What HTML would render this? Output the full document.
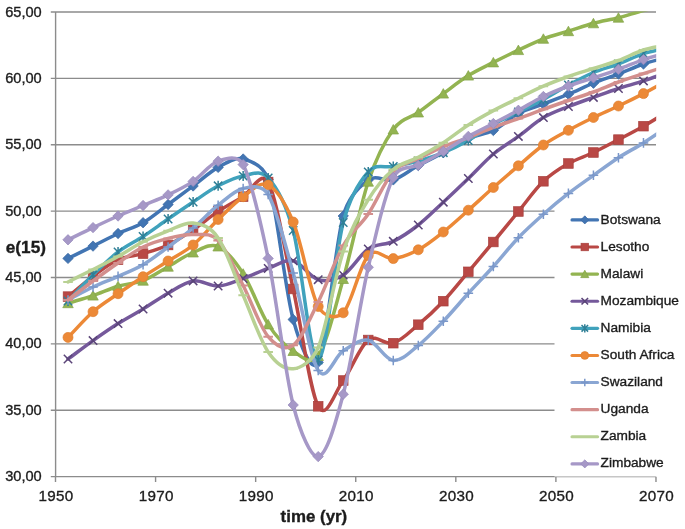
<!DOCTYPE html><html><head><meta charset="utf-8"><style>html,body{margin:0;padding:0;background:#fff;}body{width:685px;height:529px;overflow:hidden;position:relative;font-family:"Liberation Sans",sans-serif;color:#1a1a1a;}svg{position:absolute;left:0;top:0;will-change:transform;}.t{font-family:"Liberation Sans",sans-serif;fill:#1c1c1c;stroke:#1c1c1c;stroke-width:0.35px;}</style></head><body>
<svg width="685" height="529" viewBox="0 0 685 529">
<path d="M50.8,410.23H656 M50.8,343.86H656 M50.8,277.49H656 M50.8,211.11H656 M50.8,144.74H656 M50.8,78.37H656 M50.8,12.00H656" stroke="#8c8c8c" stroke-width="1.4" fill="none"/>
<path d="M55.6,12V477 M50.8,476.60H656 M55.50,476.60V482 M155.58,476.60V482 M255.66,476.60V482 M355.74,476.60V482 M455.82,476.60V482 M555.90,476.60V482 M655.98,476.60V482" stroke="#8c8c8c" stroke-width="1.4" fill="none"/>
<defs><clipPath id="pa"><rect x="55.6" y="11.4" width="600.6" height="466"/></clipPath></defs>
<g clip-path="url(#pa)">
<path d="M68.01,258.40 C76.35,254.30 84.69,250.25 93.03,246.10 C101.37,241.95 109.71,237.40 118.05,233.50 C126.39,229.60 134.73,227.53 143.07,222.70 C151.41,217.87 159.75,210.62 168.09,204.50 C176.43,198.38 184.77,192.18 193.11,186.00 C201.45,179.82 209.79,171.90 218.13,167.40 C226.47,162.90 234.81,156.98 243.15,159.00 C247.96,160.16 263.36,164.06 268.17,179.50 C276.51,206.25 284.85,289.05 293.19,319.50 C299.73,343.37 311.67,375.72 318.21,362.20 C326.55,344.95 334.89,246.37 343.23,216.00 C349.04,194.86 362.44,184.19 368.25,180.00 C376.59,173.98 384.93,182.32 393.27,179.90 C401.61,177.48 409.95,170.03 418.29,165.50 C426.63,160.97 434.97,157.23 443.31,152.70 C451.65,148.17 459.99,142.00 468.33,138.30 C476.67,134.60 485.01,134.63 493.35,130.50 C501.69,126.37 510.03,117.92 518.37,113.50 C526.71,109.08 535.05,107.22 543.39,104.00 C551.73,100.78 560.07,97.67 568.41,94.20 C576.75,90.73 585.09,86.57 593.43,83.20 C601.77,79.83 610.11,77.20 618.45,74.00 C626.79,70.80 635.13,66.85 643.47,64.00 C651.81,61.15 660.15,59.27 668.49,56.90" stroke="#4275b3" stroke-width="3.50" fill="none" stroke-linejoin="round" stroke-linecap="round"/>
<path d="M68.01,253.20L73.21,258.40L68.01,263.60L62.81,258.40Z" fill="#4275b3" stroke="#3a67a0" stroke-width="0.7"/>
<path d="M93.03,240.90L98.23,246.10L93.03,251.30L87.83,246.10Z" fill="#4275b3" stroke="#3a67a0" stroke-width="0.7"/>
<path d="M118.05,228.30L123.25,233.50L118.05,238.70L112.85,233.50Z" fill="#4275b3" stroke="#3a67a0" stroke-width="0.7"/>
<path d="M143.07,217.50L148.27,222.70L143.07,227.90L137.87,222.70Z" fill="#4275b3" stroke="#3a67a0" stroke-width="0.7"/>
<path d="M168.09,199.30L173.29,204.50L168.09,209.70L162.89,204.50Z" fill="#4275b3" stroke="#3a67a0" stroke-width="0.7"/>
<path d="M193.11,180.80L198.31,186.00L193.11,191.20L187.91,186.00Z" fill="#4275b3" stroke="#3a67a0" stroke-width="0.7"/>
<path d="M218.13,162.20L223.33,167.40L218.13,172.60L212.93,167.40Z" fill="#4275b3" stroke="#3a67a0" stroke-width="0.7"/>
<path d="M243.15,153.80L248.35,159.00L243.15,164.20L237.95,159.00Z" fill="#4275b3" stroke="#3a67a0" stroke-width="0.7"/>
<path d="M268.17,174.30L273.37,179.50L268.17,184.70L262.97,179.50Z" fill="#4275b3" stroke="#3a67a0" stroke-width="0.7"/>
<path d="M293.19,314.30L298.39,319.50L293.19,324.70L287.99,319.50Z" fill="#4275b3" stroke="#3a67a0" stroke-width="0.7"/>
<path d="M318.21,357.00L323.41,362.20L318.21,367.40L313.01,362.20Z" fill="#4275b3" stroke="#3a67a0" stroke-width="0.7"/>
<path d="M343.23,210.80L348.43,216.00L343.23,221.20L338.03,216.00Z" fill="#4275b3" stroke="#3a67a0" stroke-width="0.7"/>
<path d="M368.25,174.80L373.45,180.00L368.25,185.20L363.05,180.00Z" fill="#4275b3" stroke="#3a67a0" stroke-width="0.7"/>
<path d="M393.27,174.70L398.47,179.90L393.27,185.10L388.07,179.90Z" fill="#4275b3" stroke="#3a67a0" stroke-width="0.7"/>
<path d="M418.29,160.30L423.49,165.50L418.29,170.70L413.09,165.50Z" fill="#4275b3" stroke="#3a67a0" stroke-width="0.7"/>
<path d="M443.31,147.50L448.51,152.70L443.31,157.90L438.11,152.70Z" fill="#4275b3" stroke="#3a67a0" stroke-width="0.7"/>
<path d="M468.33,133.10L473.53,138.30L468.33,143.50L463.13,138.30Z" fill="#4275b3" stroke="#3a67a0" stroke-width="0.7"/>
<path d="M493.35,125.30L498.55,130.50L493.35,135.70L488.15,130.50Z" fill="#4275b3" stroke="#3a67a0" stroke-width="0.7"/>
<path d="M518.37,108.30L523.57,113.50L518.37,118.70L513.17,113.50Z" fill="#4275b3" stroke="#3a67a0" stroke-width="0.7"/>
<path d="M543.39,98.80L548.59,104.00L543.39,109.20L538.19,104.00Z" fill="#4275b3" stroke="#3a67a0" stroke-width="0.7"/>
<path d="M568.41,89.00L573.61,94.20L568.41,99.40L563.21,94.20Z" fill="#4275b3" stroke="#3a67a0" stroke-width="0.7"/>
<path d="M593.43,78.00L598.63,83.20L593.43,88.40L588.23,83.20Z" fill="#4275b3" stroke="#3a67a0" stroke-width="0.7"/>
<path d="M618.45,68.80L623.65,74.00L618.45,79.20L613.25,74.00Z" fill="#4275b3" stroke="#3a67a0" stroke-width="0.7"/>
<path d="M643.47,58.80L648.67,64.00L643.47,69.20L638.27,64.00Z" fill="#4275b3" stroke="#3a67a0" stroke-width="0.7"/>
<path d="M68.01,296.60 C76.35,289.83 84.69,282.45 93.03,276.30 C101.37,270.15 109.71,263.48 118.05,259.70 C126.39,255.92 134.73,256.05 143.07,253.60 C151.41,251.15 159.75,248.97 168.09,245.00 C176.43,241.03 184.77,235.40 193.11,229.80 C201.45,224.20 209.79,216.92 218.13,211.40 C226.47,205.88 234.81,201.60 243.15,196.70 C250.07,192.64 261.25,169.24 268.17,182.00 C276.51,197.38 284.85,251.62 293.19,289.00 C301.53,326.38 309.87,391.05 318.21,406.30 C326.55,421.55 334.89,391.55 343.23,380.50 C351.57,369.45 359.91,346.22 368.25,340.00 C376.59,333.78 384.93,345.75 393.27,343.20 C401.61,340.65 409.95,331.70 418.29,324.70 C426.63,317.70 434.97,310.02 443.31,301.20 C451.65,292.38 459.99,281.67 468.33,271.80 C476.67,261.93 485.01,252.05 493.35,242.00 C501.69,231.95 510.03,221.62 518.37,211.50 C526.71,201.38 535.05,189.30 543.39,181.30 C551.73,173.30 560.07,168.30 568.41,163.50 C576.75,158.70 585.09,156.48 593.43,152.50 C601.77,148.52 610.11,143.98 618.45,139.60 C626.79,135.22 635.13,130.97 643.47,126.20 C651.81,121.43 660.15,116.07 668.49,111.00" stroke="#b94845" stroke-width="3.50" fill="none" stroke-linejoin="round" stroke-linecap="round"/>
<rect x="63.21" y="291.80" width="9.60" height="9.60" fill="#b94845" stroke="#a8403d" stroke-width="0.7"/>
<rect x="88.23" y="271.50" width="9.60" height="9.60" fill="#b94845" stroke="#a8403d" stroke-width="0.7"/>
<rect x="113.25" y="254.90" width="9.60" height="9.60" fill="#b94845" stroke="#a8403d" stroke-width="0.7"/>
<rect x="138.27" y="248.80" width="9.60" height="9.60" fill="#b94845" stroke="#a8403d" stroke-width="0.7"/>
<rect x="163.29" y="240.20" width="9.60" height="9.60" fill="#b94845" stroke="#a8403d" stroke-width="0.7"/>
<rect x="188.31" y="225.00" width="9.60" height="9.60" fill="#b94845" stroke="#a8403d" stroke-width="0.7"/>
<rect x="213.33" y="206.60" width="9.60" height="9.60" fill="#b94845" stroke="#a8403d" stroke-width="0.7"/>
<rect x="238.35" y="191.90" width="9.60" height="9.60" fill="#b94845" stroke="#a8403d" stroke-width="0.7"/>
<rect x="263.37" y="177.20" width="9.60" height="9.60" fill="#b94845" stroke="#a8403d" stroke-width="0.7"/>
<rect x="288.39" y="284.20" width="9.60" height="9.60" fill="#b94845" stroke="#a8403d" stroke-width="0.7"/>
<rect x="313.41" y="401.50" width="9.60" height="9.60" fill="#b94845" stroke="#a8403d" stroke-width="0.7"/>
<rect x="338.43" y="375.70" width="9.60" height="9.60" fill="#b94845" stroke="#a8403d" stroke-width="0.7"/>
<rect x="363.45" y="335.20" width="9.60" height="9.60" fill="#b94845" stroke="#a8403d" stroke-width="0.7"/>
<rect x="388.47" y="338.40" width="9.60" height="9.60" fill="#b94845" stroke="#a8403d" stroke-width="0.7"/>
<rect x="413.49" y="319.90" width="9.60" height="9.60" fill="#b94845" stroke="#a8403d" stroke-width="0.7"/>
<rect x="438.51" y="296.40" width="9.60" height="9.60" fill="#b94845" stroke="#a8403d" stroke-width="0.7"/>
<rect x="463.53" y="267.00" width="9.60" height="9.60" fill="#b94845" stroke="#a8403d" stroke-width="0.7"/>
<rect x="488.55" y="237.20" width="9.60" height="9.60" fill="#b94845" stroke="#a8403d" stroke-width="0.7"/>
<rect x="513.57" y="206.70" width="9.60" height="9.60" fill="#b94845" stroke="#a8403d" stroke-width="0.7"/>
<rect x="538.59" y="176.50" width="9.60" height="9.60" fill="#b94845" stroke="#a8403d" stroke-width="0.7"/>
<rect x="563.61" y="158.70" width="9.60" height="9.60" fill="#b94845" stroke="#a8403d" stroke-width="0.7"/>
<rect x="588.63" y="147.70" width="9.60" height="9.60" fill="#b94845" stroke="#a8403d" stroke-width="0.7"/>
<rect x="613.65" y="134.80" width="9.60" height="9.60" fill="#b94845" stroke="#a8403d" stroke-width="0.7"/>
<rect x="638.67" y="121.40" width="9.60" height="9.60" fill="#b94845" stroke="#a8403d" stroke-width="0.7"/>
<path d="M68.01,303.20 C76.35,300.67 84.69,298.43 93.03,295.60 C101.37,292.77 109.71,288.68 118.05,286.20 C126.39,283.72 134.73,283.95 143.07,280.70 C151.41,277.45 159.75,271.40 168.09,266.70 C176.43,262.00 184.77,255.87 193.11,252.50 C201.45,249.13 209.79,242.97 218.13,246.50 C226.47,250.03 234.81,260.72 243.15,273.70 C251.49,286.68 259.83,311.52 268.17,324.40 C276.51,337.28 284.85,345.73 293.19,351.00 C300.47,355.60 310.93,366.48 318.21,356.00 C326.55,344.00 334.89,308.05 343.23,279.00 C351.57,249.95 359.91,206.62 368.25,181.70 C376.59,156.78 384.93,141.03 393.27,129.50 C401.61,117.97 409.95,118.48 418.29,112.50 C426.63,106.52 434.97,99.75 443.31,93.60 C451.65,87.45 459.99,80.80 468.33,75.60 C476.67,70.40 485.01,66.65 493.35,62.40 C501.69,58.15 510.03,54.03 518.37,50.10 C526.71,46.17 535.05,41.95 543.39,38.80 C551.73,35.65 560.07,33.78 568.41,31.20 C576.75,28.62 585.09,25.55 593.43,23.30 C601.77,21.05 610.11,19.83 618.45,17.70 C626.79,15.57 635.13,12.62 643.47,10.50 C651.81,8.38 660.15,6.83 668.49,5.00" stroke="#93b451" stroke-width="3.50" fill="none" stroke-linejoin="round" stroke-linecap="round"/>
<path d="M68.01,298.20L73.26,307.70L62.76,307.70Z" fill="#93b451" stroke="#84a447" stroke-width="0.7"/>
<path d="M93.03,290.60L98.28,300.10L87.78,300.10Z" fill="#93b451" stroke="#84a447" stroke-width="0.7"/>
<path d="M118.05,281.20L123.30,290.70L112.80,290.70Z" fill="#93b451" stroke="#84a447" stroke-width="0.7"/>
<path d="M143.07,275.70L148.32,285.20L137.82,285.20Z" fill="#93b451" stroke="#84a447" stroke-width="0.7"/>
<path d="M168.09,261.70L173.34,271.20L162.84,271.20Z" fill="#93b451" stroke="#84a447" stroke-width="0.7"/>
<path d="M193.11,247.50L198.36,257.00L187.86,257.00Z" fill="#93b451" stroke="#84a447" stroke-width="0.7"/>
<path d="M218.13,241.50L223.38,251.00L212.88,251.00Z" fill="#93b451" stroke="#84a447" stroke-width="0.7"/>
<path d="M243.15,268.70L248.40,278.20L237.90,278.20Z" fill="#93b451" stroke="#84a447" stroke-width="0.7"/>
<path d="M268.17,319.40L273.42,328.90L262.92,328.90Z" fill="#93b451" stroke="#84a447" stroke-width="0.7"/>
<path d="M293.19,346.00L298.44,355.50L287.94,355.50Z" fill="#93b451" stroke="#84a447" stroke-width="0.7"/>
<path d="M318.21,351.00L323.46,360.50L312.96,360.50Z" fill="#93b451" stroke="#84a447" stroke-width="0.7"/>
<path d="M343.23,274.00L348.48,283.50L337.98,283.50Z" fill="#93b451" stroke="#84a447" stroke-width="0.7"/>
<path d="M368.25,176.70L373.50,186.20L363.00,186.20Z" fill="#93b451" stroke="#84a447" stroke-width="0.7"/>
<path d="M393.27,124.50L398.52,134.00L388.02,134.00Z" fill="#93b451" stroke="#84a447" stroke-width="0.7"/>
<path d="M418.29,107.50L423.54,117.00L413.04,117.00Z" fill="#93b451" stroke="#84a447" stroke-width="0.7"/>
<path d="M443.31,88.60L448.56,98.10L438.06,98.10Z" fill="#93b451" stroke="#84a447" stroke-width="0.7"/>
<path d="M468.33,70.60L473.58,80.10L463.08,80.10Z" fill="#93b451" stroke="#84a447" stroke-width="0.7"/>
<path d="M493.35,57.40L498.60,66.90L488.10,66.90Z" fill="#93b451" stroke="#84a447" stroke-width="0.7"/>
<path d="M518.37,45.10L523.62,54.60L513.12,54.60Z" fill="#93b451" stroke="#84a447" stroke-width="0.7"/>
<path d="M543.39,33.80L548.64,43.30L538.14,43.30Z" fill="#93b451" stroke="#84a447" stroke-width="0.7"/>
<path d="M568.41,26.20L573.66,35.70L563.16,35.70Z" fill="#93b451" stroke="#84a447" stroke-width="0.7"/>
<path d="M593.43,18.30L598.68,27.80L588.18,27.80Z" fill="#93b451" stroke="#84a447" stroke-width="0.7"/>
<path d="M618.45,12.70L623.70,22.20L613.20,22.20Z" fill="#93b451" stroke="#84a447" stroke-width="0.7"/>
<path d="M68.01,359.00 C76.35,352.87 84.69,346.50 93.03,340.60 C101.37,334.70 109.71,328.87 118.05,323.60 C126.39,318.33 134.73,314.07 143.07,309.00 C151.41,303.93 159.75,297.88 168.09,293.20 C176.43,288.52 184.77,282.10 193.11,280.90 C201.45,279.70 209.79,286.40 218.13,286.00 C226.47,285.60 234.81,281.43 243.15,278.50 C251.49,275.57 259.83,271.35 268.17,268.40 C276.51,265.45 284.85,258.92 293.19,260.80 C301.53,262.68 309.87,277.33 318.21,279.70 C326.55,282.07 334.89,280.12 343.23,275.00 C351.57,269.88 359.91,254.62 368.25,249.00 C376.59,243.38 384.93,245.30 393.27,241.30 C401.61,237.30 409.95,231.52 418.29,225.00 C426.63,218.48 434.97,209.95 443.31,202.20 C451.65,194.45 459.99,186.53 468.33,178.50 C476.67,170.47 485.01,161.02 493.35,154.00 C501.69,146.98 510.03,142.47 518.37,136.40 C526.71,130.33 535.05,122.58 543.39,117.60 C551.73,112.62 560.07,109.87 568.41,106.50 C576.75,103.13 585.09,100.40 593.43,97.40 C601.77,94.40 610.11,91.25 618.45,88.50 C626.79,85.75 635.13,83.70 643.47,80.90 C651.81,78.10 660.15,74.77 668.49,71.70" stroke="#75599b" stroke-width="3.50" fill="none" stroke-linejoin="round" stroke-linecap="round"/>
<path d="M63.81,354.80L72.21,363.20M63.81,363.20L72.21,354.80" stroke="#5a4478" stroke-width="1.5" fill="none"/>
<path d="M88.83,336.40L97.23,344.80M88.83,344.80L97.23,336.40" stroke="#5a4478" stroke-width="1.5" fill="none"/>
<path d="M113.85,319.40L122.25,327.80M113.85,327.80L122.25,319.40" stroke="#5a4478" stroke-width="1.5" fill="none"/>
<path d="M138.87,304.80L147.27,313.20M138.87,313.20L147.27,304.80" stroke="#5a4478" stroke-width="1.5" fill="none"/>
<path d="M163.89,289.00L172.29,297.40M163.89,297.40L172.29,289.00" stroke="#5a4478" stroke-width="1.5" fill="none"/>
<path d="M188.91,276.70L197.31,285.10M188.91,285.10L197.31,276.70" stroke="#5a4478" stroke-width="1.5" fill="none"/>
<path d="M213.93,281.80L222.33,290.20M213.93,290.20L222.33,281.80" stroke="#5a4478" stroke-width="1.5" fill="none"/>
<path d="M238.95,274.30L247.35,282.70M238.95,282.70L247.35,274.30" stroke="#5a4478" stroke-width="1.5" fill="none"/>
<path d="M263.97,264.20L272.37,272.60M263.97,272.60L272.37,264.20" stroke="#5a4478" stroke-width="1.5" fill="none"/>
<path d="M288.99,256.60L297.39,265.00M288.99,265.00L297.39,256.60" stroke="#5a4478" stroke-width="1.5" fill="none"/>
<path d="M314.01,275.50L322.41,283.90M314.01,283.90L322.41,275.50" stroke="#5a4478" stroke-width="1.5" fill="none"/>
<path d="M339.03,270.80L347.43,279.20M339.03,279.20L347.43,270.80" stroke="#5a4478" stroke-width="1.5" fill="none"/>
<path d="M364.05,244.80L372.45,253.20M364.05,253.20L372.45,244.80" stroke="#5a4478" stroke-width="1.5" fill="none"/>
<path d="M389.07,237.10L397.47,245.50M389.07,245.50L397.47,237.10" stroke="#5a4478" stroke-width="1.5" fill="none"/>
<path d="M414.09,220.80L422.49,229.20M414.09,229.20L422.49,220.80" stroke="#5a4478" stroke-width="1.5" fill="none"/>
<path d="M439.11,198.00L447.51,206.40M439.11,206.40L447.51,198.00" stroke="#5a4478" stroke-width="1.5" fill="none"/>
<path d="M464.13,174.30L472.53,182.70M464.13,182.70L472.53,174.30" stroke="#5a4478" stroke-width="1.5" fill="none"/>
<path d="M489.15,149.80L497.55,158.20M489.15,158.20L497.55,149.80" stroke="#5a4478" stroke-width="1.5" fill="none"/>
<path d="M514.17,132.20L522.57,140.60M514.17,140.60L522.57,132.20" stroke="#5a4478" stroke-width="1.5" fill="none"/>
<path d="M539.19,113.40L547.59,121.80M539.19,121.80L547.59,113.40" stroke="#5a4478" stroke-width="1.5" fill="none"/>
<path d="M564.21,102.30L572.61,110.70M564.21,110.70L572.61,102.30" stroke="#5a4478" stroke-width="1.5" fill="none"/>
<path d="M589.23,93.20L597.63,101.60M589.23,101.60L597.63,93.20" stroke="#5a4478" stroke-width="1.5" fill="none"/>
<path d="M614.25,84.30L622.65,92.70M614.25,92.70L622.65,84.30" stroke="#5a4478" stroke-width="1.5" fill="none"/>
<path d="M639.27,76.70L647.67,85.10M639.27,85.10L647.67,76.70" stroke="#5a4478" stroke-width="1.5" fill="none"/>
<path d="M68.01,301.00 C76.35,292.27 84.69,282.97 93.03,274.80 C101.37,266.63 109.71,258.38 118.05,252.00 C126.39,245.62 134.73,242.00 143.07,236.50 C151.41,231.00 159.75,224.75 168.09,219.00 C176.43,213.25 184.77,207.53 193.11,202.00 C201.45,196.47 209.79,190.15 218.13,185.80 C226.47,181.45 234.81,177.20 243.15,175.90 C251.49,174.60 259.83,168.90 268.17,178.00 C275.88,186.41 285.48,202.46 293.19,230.50 C301.53,260.83 309.87,361.33 318.21,360.00 C326.55,358.67 334.89,253.83 343.23,222.50 C350.48,195.27 361.00,180.11 368.25,172.00 C376.59,162.67 384.93,168.33 393.27,166.50 C401.61,164.67 409.95,163.30 418.29,161.00 C426.63,158.70 434.97,156.12 443.31,152.70 C451.65,149.28 459.99,145.22 468.33,140.50 C476.67,135.78 485.01,129.15 493.35,124.40 C501.69,119.65 510.03,116.15 518.37,112.00 C526.71,107.85 535.05,104.00 543.39,99.50 C551.73,95.00 560.07,89.50 568.41,85.00 C576.75,80.50 585.09,76.00 593.43,72.50 C601.77,69.00 610.11,67.15 618.45,64.00 C626.79,60.85 635.13,56.30 643.47,53.60 C651.81,50.90 660.15,49.73 668.49,47.80" stroke="#40a2bc" stroke-width="3.50" fill="none" stroke-linejoin="round" stroke-linecap="round"/>
<path d="M63.81,296.80L72.21,305.20M63.81,305.20L72.21,296.80M68.01,296.00L68.01,306.00" stroke="#2f7f96" stroke-width="1.5" fill="none"/>
<path d="M88.83,270.60L97.23,279.00M88.83,279.00L97.23,270.60M93.03,269.80L93.03,279.80" stroke="#2f7f96" stroke-width="1.5" fill="none"/>
<path d="M113.85,247.80L122.25,256.20M113.85,256.20L122.25,247.80M118.05,247.00L118.05,257.00" stroke="#2f7f96" stroke-width="1.5" fill="none"/>
<path d="M138.87,232.30L147.27,240.70M138.87,240.70L147.27,232.30M143.07,231.50L143.07,241.50" stroke="#2f7f96" stroke-width="1.5" fill="none"/>
<path d="M163.89,214.80L172.29,223.20M163.89,223.20L172.29,214.80M168.09,214.00L168.09,224.00" stroke="#2f7f96" stroke-width="1.5" fill="none"/>
<path d="M188.91,197.80L197.31,206.20M188.91,206.20L197.31,197.80M193.11,197.00L193.11,207.00" stroke="#2f7f96" stroke-width="1.5" fill="none"/>
<path d="M213.93,181.60L222.33,190.00M213.93,190.00L222.33,181.60M218.13,180.80L218.13,190.80" stroke="#2f7f96" stroke-width="1.5" fill="none"/>
<path d="M238.95,171.70L247.35,180.10M238.95,180.10L247.35,171.70M243.15,170.90L243.15,180.90" stroke="#2f7f96" stroke-width="1.5" fill="none"/>
<path d="M263.97,173.80L272.37,182.20M263.97,182.20L272.37,173.80M268.17,173.00L268.17,183.00" stroke="#2f7f96" stroke-width="1.5" fill="none"/>
<path d="M288.99,226.30L297.39,234.70M288.99,234.70L297.39,226.30M293.19,225.50L293.19,235.50" stroke="#2f7f96" stroke-width="1.5" fill="none"/>
<path d="M314.01,355.80L322.41,364.20M314.01,364.20L322.41,355.80M318.21,355.00L318.21,365.00" stroke="#2f7f96" stroke-width="1.5" fill="none"/>
<path d="M339.03,218.30L347.43,226.70M339.03,226.70L347.43,218.30M343.23,217.50L343.23,227.50" stroke="#2f7f96" stroke-width="1.5" fill="none"/>
<path d="M364.05,167.80L372.45,176.20M364.05,176.20L372.45,167.80M368.25,167.00L368.25,177.00" stroke="#2f7f96" stroke-width="1.5" fill="none"/>
<path d="M389.07,162.30L397.47,170.70M389.07,170.70L397.47,162.30M393.27,161.50L393.27,171.50" stroke="#2f7f96" stroke-width="1.5" fill="none"/>
<path d="M414.09,156.80L422.49,165.20M414.09,165.20L422.49,156.80M418.29,156.00L418.29,166.00" stroke="#2f7f96" stroke-width="1.5" fill="none"/>
<path d="M439.11,148.50L447.51,156.90M439.11,156.90L447.51,148.50M443.31,147.70L443.31,157.70" stroke="#2f7f96" stroke-width="1.5" fill="none"/>
<path d="M464.13,136.30L472.53,144.70M464.13,144.70L472.53,136.30M468.33,135.50L468.33,145.50" stroke="#2f7f96" stroke-width="1.5" fill="none"/>
<path d="M489.15,120.20L497.55,128.60M489.15,128.60L497.55,120.20M493.35,119.40L493.35,129.40" stroke="#2f7f96" stroke-width="1.5" fill="none"/>
<path d="M514.17,107.80L522.57,116.20M514.17,116.20L522.57,107.80M518.37,107.00L518.37,117.00" stroke="#2f7f96" stroke-width="1.5" fill="none"/>
<path d="M539.19,95.30L547.59,103.70M539.19,103.70L547.59,95.30M543.39,94.50L543.39,104.50" stroke="#2f7f96" stroke-width="1.5" fill="none"/>
<path d="M564.21,80.80L572.61,89.20M564.21,89.20L572.61,80.80M568.41,80.00L568.41,90.00" stroke="#2f7f96" stroke-width="1.5" fill="none"/>
<path d="M589.23,68.30L597.63,76.70M589.23,76.70L597.63,68.30M593.43,67.50L593.43,77.50" stroke="#2f7f96" stroke-width="1.5" fill="none"/>
<path d="M614.25,59.80L622.65,68.20M614.25,68.20L622.65,59.80M618.45,59.00L618.45,69.00" stroke="#2f7f96" stroke-width="1.5" fill="none"/>
<path d="M639.27,49.40L647.67,57.80M639.27,57.80L647.67,49.40M643.47,48.60L643.47,58.60" stroke="#2f7f96" stroke-width="1.5" fill="none"/>
<path d="M68.01,337.40 C76.35,328.83 84.69,318.98 93.03,311.70 C101.37,304.42 109.71,299.53 118.05,293.70 C126.39,287.87 134.73,282.15 143.07,276.70 C151.41,271.25 159.75,266.28 168.09,261.00 C176.43,255.72 184.77,251.92 193.11,245.00 C201.45,238.08 209.79,227.55 218.13,219.50 C226.47,211.45 234.81,202.45 243.15,196.70 C251.49,190.95 259.83,180.78 268.17,185.00 C276.51,189.22 284.85,201.75 293.19,222.00 C301.53,242.25 309.87,291.37 318.21,306.50 C324.44,317.80 337.00,319.15 343.23,312.80 C351.57,304.30 359.91,264.53 368.25,255.50 C376.59,246.47 384.93,259.55 393.27,258.60 C401.61,257.65 409.95,254.23 418.29,249.80 C426.63,245.37 434.97,238.60 443.31,232.00 C451.65,225.40 459.99,217.62 468.33,210.20 C476.67,202.78 485.01,194.90 493.35,187.50 C501.69,180.10 510.03,172.88 518.37,165.80 C526.71,158.72 535.05,150.92 543.39,145.00 C551.73,139.08 560.07,134.88 568.41,130.30 C576.75,125.72 585.09,121.55 593.43,117.50 C601.77,113.45 610.11,109.98 618.45,106.00 C626.79,102.02 635.13,97.93 643.47,93.60 C651.81,89.27 660.15,84.53 668.49,80.00" stroke="#ec8937" stroke-width="3.50" fill="none" stroke-linejoin="round" stroke-linecap="round"/>
<circle cx="68.01" cy="337.40" r="5.00" fill="#ec8937" stroke="#e07f30" stroke-width="0.7"/>
<circle cx="93.03" cy="311.70" r="5.00" fill="#ec8937" stroke="#e07f30" stroke-width="0.7"/>
<circle cx="118.05" cy="293.70" r="5.00" fill="#ec8937" stroke="#e07f30" stroke-width="0.7"/>
<circle cx="143.07" cy="276.70" r="5.00" fill="#ec8937" stroke="#e07f30" stroke-width="0.7"/>
<circle cx="168.09" cy="261.00" r="5.00" fill="#ec8937" stroke="#e07f30" stroke-width="0.7"/>
<circle cx="193.11" cy="245.00" r="5.00" fill="#ec8937" stroke="#e07f30" stroke-width="0.7"/>
<circle cx="218.13" cy="219.50" r="5.00" fill="#ec8937" stroke="#e07f30" stroke-width="0.7"/>
<circle cx="243.15" cy="196.70" r="5.00" fill="#ec8937" stroke="#e07f30" stroke-width="0.7"/>
<circle cx="268.17" cy="185.00" r="5.00" fill="#ec8937" stroke="#e07f30" stroke-width="0.7"/>
<circle cx="293.19" cy="222.00" r="5.00" fill="#ec8937" stroke="#e07f30" stroke-width="0.7"/>
<circle cx="318.21" cy="306.50" r="5.00" fill="#ec8937" stroke="#e07f30" stroke-width="0.7"/>
<circle cx="343.23" cy="312.80" r="5.00" fill="#ec8937" stroke="#e07f30" stroke-width="0.7"/>
<circle cx="368.25" cy="255.50" r="5.00" fill="#ec8937" stroke="#e07f30" stroke-width="0.7"/>
<circle cx="393.27" cy="258.60" r="5.00" fill="#ec8937" stroke="#e07f30" stroke-width="0.7"/>
<circle cx="418.29" cy="249.80" r="5.00" fill="#ec8937" stroke="#e07f30" stroke-width="0.7"/>
<circle cx="443.31" cy="232.00" r="5.00" fill="#ec8937" stroke="#e07f30" stroke-width="0.7"/>
<circle cx="468.33" cy="210.20" r="5.00" fill="#ec8937" stroke="#e07f30" stroke-width="0.7"/>
<circle cx="493.35" cy="187.50" r="5.00" fill="#ec8937" stroke="#e07f30" stroke-width="0.7"/>
<circle cx="518.37" cy="165.80" r="5.00" fill="#ec8937" stroke="#e07f30" stroke-width="0.7"/>
<circle cx="543.39" cy="145.00" r="5.00" fill="#ec8937" stroke="#e07f30" stroke-width="0.7"/>
<circle cx="568.41" cy="130.30" r="5.00" fill="#ec8937" stroke="#e07f30" stroke-width="0.7"/>
<circle cx="593.43" cy="117.50" r="5.00" fill="#ec8937" stroke="#e07f30" stroke-width="0.7"/>
<circle cx="618.45" cy="106.00" r="5.00" fill="#ec8937" stroke="#e07f30" stroke-width="0.7"/>
<circle cx="643.47" cy="93.60" r="5.00" fill="#ec8937" stroke="#e07f30" stroke-width="0.7"/>
<path d="M68.01,300.00 C76.35,295.67 84.69,290.95 93.03,287.00 C101.37,283.05 109.71,280.02 118.05,276.30 C126.39,272.58 134.73,269.58 143.07,264.70 C151.41,259.82 159.75,253.12 168.09,247.00 C176.43,240.88 184.77,234.97 193.11,228.00 C201.45,221.03 209.79,211.78 218.13,205.20 C226.47,198.62 234.81,190.28 243.15,188.50 C249.71,187.10 261.61,183.43 268.17,194.50 C276.51,208.58 284.85,243.67 293.19,273.00 C301.53,302.33 309.87,357.53 318.21,370.50 C326.55,383.47 334.89,355.85 343.23,350.80 C351.57,345.75 359.91,338.58 368.25,340.20 C376.59,341.82 384.93,359.62 393.27,360.50 C401.61,361.38 409.95,352.03 418.29,345.50 C426.63,338.97 434.97,330.00 443.31,321.30 C451.65,312.60 459.99,302.43 468.33,293.30 C476.67,284.17 485.01,275.77 493.35,266.50 C501.69,257.23 510.03,246.42 518.37,237.70 C526.71,228.98 535.05,221.58 543.39,214.20 C551.73,206.82 560.07,199.88 568.41,193.40 C576.75,186.92 585.09,181.25 593.43,175.30 C601.77,169.35 610.11,163.10 618.45,157.70 C626.79,152.30 635.13,148.17 643.47,142.90 C651.81,137.63 660.15,131.70 668.49,126.10" stroke="#8aa6d3" stroke-width="3.50" fill="none" stroke-linejoin="round" stroke-linecap="round"/>
<path d="M63.21,300.00L72.81,300.00M68.01,295.20L68.01,304.80" stroke="#7a97c9" stroke-width="1.5" fill="none"/>
<path d="M88.23,287.00L97.83,287.00M93.03,282.20L93.03,291.80" stroke="#7a97c9" stroke-width="1.5" fill="none"/>
<path d="M113.25,276.30L122.85,276.30M118.05,271.50L118.05,281.10" stroke="#7a97c9" stroke-width="1.5" fill="none"/>
<path d="M138.27,264.70L147.87,264.70M143.07,259.90L143.07,269.50" stroke="#7a97c9" stroke-width="1.5" fill="none"/>
<path d="M163.29,247.00L172.89,247.00M168.09,242.20L168.09,251.80" stroke="#7a97c9" stroke-width="1.5" fill="none"/>
<path d="M188.31,228.00L197.91,228.00M193.11,223.20L193.11,232.80" stroke="#7a97c9" stroke-width="1.5" fill="none"/>
<path d="M213.33,205.20L222.93,205.20M218.13,200.40L218.13,210.00" stroke="#7a97c9" stroke-width="1.5" fill="none"/>
<path d="M238.35,188.50L247.95,188.50M243.15,183.70L243.15,193.30" stroke="#7a97c9" stroke-width="1.5" fill="none"/>
<path d="M263.37,194.50L272.97,194.50M268.17,189.70L268.17,199.30" stroke="#7a97c9" stroke-width="1.5" fill="none"/>
<path d="M288.39,273.00L297.99,273.00M293.19,268.20L293.19,277.80" stroke="#7a97c9" stroke-width="1.5" fill="none"/>
<path d="M313.41,370.50L323.01,370.50M318.21,365.70L318.21,375.30" stroke="#7a97c9" stroke-width="1.5" fill="none"/>
<path d="M338.43,350.80L348.03,350.80M343.23,346.00L343.23,355.60" stroke="#7a97c9" stroke-width="1.5" fill="none"/>
<path d="M363.45,340.20L373.05,340.20M368.25,335.40L368.25,345.00" stroke="#7a97c9" stroke-width="1.5" fill="none"/>
<path d="M388.47,360.50L398.07,360.50M393.27,355.70L393.27,365.30" stroke="#7a97c9" stroke-width="1.5" fill="none"/>
<path d="M413.49,345.50L423.09,345.50M418.29,340.70L418.29,350.30" stroke="#7a97c9" stroke-width="1.5" fill="none"/>
<path d="M438.51,321.30L448.11,321.30M443.31,316.50L443.31,326.10" stroke="#7a97c9" stroke-width="1.5" fill="none"/>
<path d="M463.53,293.30L473.13,293.30M468.33,288.50L468.33,298.10" stroke="#7a97c9" stroke-width="1.5" fill="none"/>
<path d="M488.55,266.50L498.15,266.50M493.35,261.70L493.35,271.30" stroke="#7a97c9" stroke-width="1.5" fill="none"/>
<path d="M513.57,237.70L523.17,237.70M518.37,232.90L518.37,242.50" stroke="#7a97c9" stroke-width="1.5" fill="none"/>
<path d="M538.59,214.20L548.19,214.20M543.39,209.40L543.39,219.00" stroke="#7a97c9" stroke-width="1.5" fill="none"/>
<path d="M563.61,193.40L573.21,193.40M568.41,188.60L568.41,198.20" stroke="#7a97c9" stroke-width="1.5" fill="none"/>
<path d="M588.63,175.30L598.23,175.30M593.43,170.50L593.43,180.10" stroke="#7a97c9" stroke-width="1.5" fill="none"/>
<path d="M613.65,157.70L623.25,157.70M618.45,152.90L618.45,162.50" stroke="#7a97c9" stroke-width="1.5" fill="none"/>
<path d="M638.67,142.90L648.27,142.90M643.47,138.10L643.47,147.70" stroke="#7a97c9" stroke-width="1.5" fill="none"/>
<path d="M68.01,300.00 C76.35,293.67 84.69,287.17 93.03,281.00 C101.37,274.83 109.71,268.67 118.05,263.00 C126.39,257.33 134.73,251.10 143.07,247.00 C151.41,242.90 159.75,240.47 168.09,238.40 C176.43,236.33 184.77,234.27 193.11,234.60 C201.45,234.93 209.79,231.92 218.13,240.40 C226.47,248.88 234.81,269.45 243.15,285.50 C251.49,301.55 259.83,326.75 268.17,336.70 C276.51,346.65 284.85,350.98 293.19,345.20 C301.53,339.42 309.87,318.62 318.21,302.00 C326.55,285.38 334.89,260.17 343.23,245.50 C351.57,230.83 359.91,226.32 368.25,214.00 C376.59,201.68 384.93,180.82 393.27,171.60 C401.61,162.38 409.95,162.87 418.29,158.70 C426.63,154.53 434.97,150.12 443.31,146.60 C451.65,143.08 459.99,140.82 468.33,137.60 C476.67,134.38 485.01,130.47 493.35,127.30 C501.69,124.13 510.03,121.60 518.37,118.60 C526.71,115.60 535.05,112.32 543.39,109.30 C551.73,106.28 560.07,103.38 568.41,100.50 C576.75,97.62 585.09,95.08 593.43,92.00 C601.77,88.92 610.11,85.07 618.45,82.00 C626.79,78.93 635.13,76.33 643.47,73.60 C651.81,70.87 660.15,68.27 668.49,65.60" stroke="#d38f8d" stroke-width="3.50" fill="none" stroke-linejoin="round" stroke-linecap="round"/>
<path d="M63.21,300.00L72.81,300.00" stroke="#d38f8d" stroke-width="2.0" fill="none"/>
<path d="M88.23,281.00L97.83,281.00" stroke="#d38f8d" stroke-width="2.0" fill="none"/>
<path d="M113.25,263.00L122.85,263.00" stroke="#d38f8d" stroke-width="2.0" fill="none"/>
<path d="M138.27,247.00L147.87,247.00" stroke="#d38f8d" stroke-width="2.0" fill="none"/>
<path d="M163.29,238.40L172.89,238.40" stroke="#d38f8d" stroke-width="2.0" fill="none"/>
<path d="M188.31,234.60L197.91,234.60" stroke="#d38f8d" stroke-width="2.0" fill="none"/>
<path d="M213.33,240.40L222.93,240.40" stroke="#d38f8d" stroke-width="2.0" fill="none"/>
<path d="M238.35,285.50L247.95,285.50" stroke="#d38f8d" stroke-width="2.0" fill="none"/>
<path d="M263.37,336.70L272.97,336.70" stroke="#d38f8d" stroke-width="2.0" fill="none"/>
<path d="M288.39,345.20L297.99,345.20" stroke="#d38f8d" stroke-width="2.0" fill="none"/>
<path d="M313.41,302.00L323.01,302.00" stroke="#d38f8d" stroke-width="2.0" fill="none"/>
<path d="M338.43,245.50L348.03,245.50" stroke="#d38f8d" stroke-width="2.0" fill="none"/>
<path d="M363.45,214.00L373.05,214.00" stroke="#d38f8d" stroke-width="2.0" fill="none"/>
<path d="M388.47,171.60L398.07,171.60" stroke="#d38f8d" stroke-width="2.0" fill="none"/>
<path d="M413.49,158.70L423.09,158.70" stroke="#d38f8d" stroke-width="2.0" fill="none"/>
<path d="M438.51,146.60L448.11,146.60" stroke="#d38f8d" stroke-width="2.0" fill="none"/>
<path d="M463.53,137.60L473.13,137.60" stroke="#d38f8d" stroke-width="2.0" fill="none"/>
<path d="M488.55,127.30L498.15,127.30" stroke="#d38f8d" stroke-width="2.0" fill="none"/>
<path d="M513.57,118.60L523.17,118.60" stroke="#d38f8d" stroke-width="2.0" fill="none"/>
<path d="M538.59,109.30L548.19,109.30" stroke="#d38f8d" stroke-width="2.0" fill="none"/>
<path d="M563.61,100.50L573.21,100.50" stroke="#d38f8d" stroke-width="2.0" fill="none"/>
<path d="M588.63,92.00L598.23,92.00" stroke="#d38f8d" stroke-width="2.0" fill="none"/>
<path d="M613.65,82.00L623.25,82.00" stroke="#d38f8d" stroke-width="2.0" fill="none"/>
<path d="M638.67,73.60L648.27,73.60" stroke="#d38f8d" stroke-width="2.0" fill="none"/>
<path d="M68.01,282.00 C76.35,277.83 84.69,273.75 93.03,269.50 C101.37,265.25 109.71,261.12 118.05,256.50 C126.39,251.88 134.73,246.08 143.07,241.80 C151.41,237.52 159.75,233.93 168.09,230.80 C176.43,227.67 184.77,221.82 193.11,223.00 C201.40,224.18 209.84,225.93 218.13,237.90 C226.47,249.95 234.81,276.28 243.15,295.30 C251.49,314.32 259.83,339.75 268.17,352.00 C276.51,364.25 284.85,369.55 293.19,368.80 C299.64,368.22 311.76,362.61 318.21,347.50 C326.55,327.95 334.89,276.13 343.23,251.50 C351.57,226.87 359.91,213.37 368.25,199.70 C376.59,186.03 384.93,176.57 393.27,169.50 C401.61,162.43 409.95,161.77 418.29,157.30 C426.63,152.83 434.97,148.08 443.31,142.70 C451.65,137.32 459.99,130.35 468.33,125.00 C476.67,119.65 485.01,115.07 493.35,110.60 C501.69,106.13 510.03,102.27 518.37,98.20 C526.71,94.13 535.05,89.82 543.39,86.20 C551.73,82.58 560.07,79.45 568.41,76.50 C576.75,73.55 585.09,71.17 593.43,68.50 C601.77,65.83 610.11,63.58 618.45,60.50 C626.79,57.42 635.13,52.63 643.47,50.00 C651.81,47.37 660.15,46.47 668.49,44.70" stroke="#b8d193" stroke-width="3.50" fill="none" stroke-linejoin="round" stroke-linecap="round"/>
<path d="M63.21,282.00L72.81,282.00" stroke="#b8d193" stroke-width="2.0" fill="none"/>
<path d="M88.23,269.50L97.83,269.50" stroke="#b8d193" stroke-width="2.0" fill="none"/>
<path d="M113.25,256.50L122.85,256.50" stroke="#b8d193" stroke-width="2.0" fill="none"/>
<path d="M138.27,241.80L147.87,241.80" stroke="#b8d193" stroke-width="2.0" fill="none"/>
<path d="M163.29,230.80L172.89,230.80" stroke="#b8d193" stroke-width="2.0" fill="none"/>
<path d="M188.31,223.00L197.91,223.00" stroke="#b8d193" stroke-width="2.0" fill="none"/>
<path d="M213.33,237.90L222.93,237.90" stroke="#b8d193" stroke-width="2.0" fill="none"/>
<path d="M238.35,295.30L247.95,295.30" stroke="#b8d193" stroke-width="2.0" fill="none"/>
<path d="M263.37,352.00L272.97,352.00" stroke="#b8d193" stroke-width="2.0" fill="none"/>
<path d="M288.39,368.80L297.99,368.80" stroke="#b8d193" stroke-width="2.0" fill="none"/>
<path d="M313.41,347.50L323.01,347.50" stroke="#b8d193" stroke-width="2.0" fill="none"/>
<path d="M338.43,251.50L348.03,251.50" stroke="#b8d193" stroke-width="2.0" fill="none"/>
<path d="M363.45,199.70L373.05,199.70" stroke="#b8d193" stroke-width="2.0" fill="none"/>
<path d="M388.47,169.50L398.07,169.50" stroke="#b8d193" stroke-width="2.0" fill="none"/>
<path d="M413.49,157.30L423.09,157.30" stroke="#b8d193" stroke-width="2.0" fill="none"/>
<path d="M438.51,142.70L448.11,142.70" stroke="#b8d193" stroke-width="2.0" fill="none"/>
<path d="M463.53,125.00L473.13,125.00" stroke="#b8d193" stroke-width="2.0" fill="none"/>
<path d="M488.55,110.60L498.15,110.60" stroke="#b8d193" stroke-width="2.0" fill="none"/>
<path d="M513.57,98.20L523.17,98.20" stroke="#b8d193" stroke-width="2.0" fill="none"/>
<path d="M538.59,86.20L548.19,86.20" stroke="#b8d193" stroke-width="2.0" fill="none"/>
<path d="M563.61,76.50L573.21,76.50" stroke="#b8d193" stroke-width="2.0" fill="none"/>
<path d="M588.63,68.50L598.23,68.50" stroke="#b8d193" stroke-width="2.0" fill="none"/>
<path d="M613.65,60.50L623.25,60.50" stroke="#b8d193" stroke-width="2.0" fill="none"/>
<path d="M638.67,50.00L648.27,50.00" stroke="#b8d193" stroke-width="2.0" fill="none"/>
<path d="M68.01,239.80 C76.35,235.73 84.69,231.57 93.03,227.60 C101.37,223.63 109.71,219.68 118.05,216.00 C126.39,212.32 134.73,209.02 143.07,205.50 C151.41,201.98 159.75,198.92 168.09,194.90 C176.43,190.88 184.77,187.02 193.11,181.40 C201.45,175.78 209.79,164.00 218.13,161.20 C223.91,159.26 237.37,153.38 243.15,164.60 C251.49,180.80 259.83,218.33 268.17,258.40 C276.51,298.47 284.85,371.97 293.19,405.00 C300.21,432.80 311.19,458.11 318.21,456.60 C326.55,454.80 334.89,425.75 343.23,394.20 C351.57,362.65 359.91,303.42 368.25,267.30 C376.59,231.18 384.93,194.50 393.27,177.50 C399.40,165.00 412.16,168.50 418.29,165.30 C426.63,160.95 434.97,156.22 443.31,151.40 C451.65,146.58 459.99,141.05 468.33,136.40 C476.67,131.75 485.01,127.85 493.35,123.50 C501.69,119.15 510.03,114.80 518.37,110.30 C526.71,105.80 535.05,100.55 543.39,96.50 C551.73,92.45 560.07,89.12 568.41,86.00 C576.75,82.88 585.09,80.58 593.43,77.80 C601.77,75.02 610.11,72.33 618.45,69.30 C626.79,66.27 635.13,62.40 643.47,59.60 C651.81,56.80 660.15,54.87 668.49,52.50" stroke="#a698c7" stroke-width="3.50" fill="none" stroke-linejoin="round" stroke-linecap="round"/>
<path d="M68.01,234.60L73.21,239.80L68.01,245.00L62.81,239.80Z" fill="#a698c7" stroke="#9789bb" stroke-width="0.7"/>
<path d="M93.03,222.40L98.23,227.60L93.03,232.80L87.83,227.60Z" fill="#a698c7" stroke="#9789bb" stroke-width="0.7"/>
<path d="M118.05,210.80L123.25,216.00L118.05,221.20L112.85,216.00Z" fill="#a698c7" stroke="#9789bb" stroke-width="0.7"/>
<path d="M143.07,200.30L148.27,205.50L143.07,210.70L137.87,205.50Z" fill="#a698c7" stroke="#9789bb" stroke-width="0.7"/>
<path d="M168.09,189.70L173.29,194.90L168.09,200.10L162.89,194.90Z" fill="#a698c7" stroke="#9789bb" stroke-width="0.7"/>
<path d="M193.11,176.20L198.31,181.40L193.11,186.60L187.91,181.40Z" fill="#a698c7" stroke="#9789bb" stroke-width="0.7"/>
<path d="M218.13,156.00L223.33,161.20L218.13,166.40L212.93,161.20Z" fill="#a698c7" stroke="#9789bb" stroke-width="0.7"/>
<path d="M243.15,159.40L248.35,164.60L243.15,169.80L237.95,164.60Z" fill="#a698c7" stroke="#9789bb" stroke-width="0.7"/>
<path d="M268.17,253.20L273.37,258.40L268.17,263.60L262.97,258.40Z" fill="#a698c7" stroke="#9789bb" stroke-width="0.7"/>
<path d="M293.19,399.80L298.39,405.00L293.19,410.20L287.99,405.00Z" fill="#a698c7" stroke="#9789bb" stroke-width="0.7"/>
<path d="M318.21,451.40L323.41,456.60L318.21,461.80L313.01,456.60Z" fill="#a698c7" stroke="#9789bb" stroke-width="0.7"/>
<path d="M343.23,389.00L348.43,394.20L343.23,399.40L338.03,394.20Z" fill="#a698c7" stroke="#9789bb" stroke-width="0.7"/>
<path d="M368.25,262.10L373.45,267.30L368.25,272.50L363.05,267.30Z" fill="#a698c7" stroke="#9789bb" stroke-width="0.7"/>
<path d="M393.27,172.30L398.47,177.50L393.27,182.70L388.07,177.50Z" fill="#a698c7" stroke="#9789bb" stroke-width="0.7"/>
<path d="M418.29,160.10L423.49,165.30L418.29,170.50L413.09,165.30Z" fill="#a698c7" stroke="#9789bb" stroke-width="0.7"/>
<path d="M443.31,146.20L448.51,151.40L443.31,156.60L438.11,151.40Z" fill="#a698c7" stroke="#9789bb" stroke-width="0.7"/>
<path d="M468.33,131.20L473.53,136.40L468.33,141.60L463.13,136.40Z" fill="#a698c7" stroke="#9789bb" stroke-width="0.7"/>
<path d="M493.35,118.30L498.55,123.50L493.35,128.70L488.15,123.50Z" fill="#a698c7" stroke="#9789bb" stroke-width="0.7"/>
<path d="M518.37,105.10L523.57,110.30L518.37,115.50L513.17,110.30Z" fill="#a698c7" stroke="#9789bb" stroke-width="0.7"/>
<path d="M543.39,91.30L548.59,96.50L543.39,101.70L538.19,96.50Z" fill="#a698c7" stroke="#9789bb" stroke-width="0.7"/>
<path d="M568.41,80.80L573.61,86.00L568.41,91.20L563.21,86.00Z" fill="#a698c7" stroke="#9789bb" stroke-width="0.7"/>
<path d="M593.43,72.60L598.63,77.80L593.43,83.00L588.23,77.80Z" fill="#a698c7" stroke="#9789bb" stroke-width="0.7"/>
<path d="M618.45,64.10L623.65,69.30L618.45,74.50L613.25,69.30Z" fill="#a698c7" stroke="#9789bb" stroke-width="0.7"/>
<path d="M643.47,54.40L648.67,59.60L643.47,64.80L638.27,59.60Z" fill="#a698c7" stroke="#9789bb" stroke-width="0.7"/>
</g>
<rect x="554.5" y="208" width="130.5" height="268.5" fill="#fff"/>
<path d="M572,219.90H597.6" stroke="#4275b3" stroke-width="3.1" stroke-linecap="round"/>
<path d="M584.80,215.84L588.86,219.90L584.80,223.96L580.74,219.90Z" fill="#4275b3" stroke="#3a67a0" stroke-width="0.7"/>
<text x="600.6" y="223.50" font-size="13.7" class="t">Botswana</text>
<path d="M572,247.01H597.6" stroke="#b94845" stroke-width="3.1" stroke-linecap="round"/>
<rect x="581.06" y="243.27" width="7.49" height="7.49" fill="#b94845" stroke="#a8403d" stroke-width="0.7"/>
<text x="600.6" y="250.61" font-size="13.7" class="t">Lesotho</text>
<path d="M572,274.12H597.6" stroke="#93b451" stroke-width="3.1" stroke-linecap="round"/>
<path d="M584.80,270.22L588.89,277.63L580.70,277.63Z" fill="#93b451" stroke="#84a447" stroke-width="0.7"/>
<text x="600.6" y="277.72" font-size="13.7" class="t">Malawi</text>
<path d="M572,301.23H597.6" stroke="#75599b" stroke-width="3.1" stroke-linecap="round"/>
<path d="M581.52,297.95L588.08,304.51M581.52,304.51L588.08,297.95" stroke="#5a4478" stroke-width="1.5" fill="none"/>
<text x="600.6" y="304.83" font-size="13.7" class="t">Mozambique</text>
<path d="M572,328.34H597.6" stroke="#40a2bc" stroke-width="3.1" stroke-linecap="round"/>
<path d="M581.52,325.06L588.08,331.62M581.52,331.62L588.08,325.06M584.80,324.26L584.80,332.42" stroke="#2f7f96" stroke-width="1.5" fill="none"/>
<text x="600.6" y="331.94" font-size="13.7" class="t">Namibia</text>
<path d="M572,355.45H597.6" stroke="#ec8937" stroke-width="3.1" stroke-linecap="round"/>
<circle cx="584.80" cy="355.45" r="3.90" fill="#ec8937" stroke="#e07f30" stroke-width="0.7"/>
<text x="600.6" y="359.05" font-size="13.7" class="t">South Africa</text>
<path d="M572,382.56H597.6" stroke="#8aa6d3" stroke-width="3.1" stroke-linecap="round"/>
<path d="M581.06,382.56L588.54,382.56M584.80,378.82L584.80,386.30" stroke="#7a97c9" stroke-width="1.5" fill="none"/>
<text x="600.6" y="386.16" font-size="13.7" class="t">Swaziland</text>
<path d="M572,409.67H597.6" stroke="#d38f8d" stroke-width="3.1" stroke-linecap="round"/>
<text x="600.6" y="413.27" font-size="13.7" class="t">Uganda</text>
<path d="M572,436.78H597.6" stroke="#b8d193" stroke-width="3.1" stroke-linecap="round"/>
<text x="600.6" y="440.38" font-size="13.7" class="t">Zambia</text>
<path d="M572,463.89H597.6" stroke="#a698c7" stroke-width="3.1" stroke-linecap="round"/>
<path d="M584.80,459.83L588.86,463.89L584.80,467.95L580.74,463.89Z" fill="#a698c7" stroke="#9789bb" stroke-width="0.7"/>
<text x="600.6" y="467.49" font-size="13.7" class="t">Zimbabwe</text>
<text x="41.7" y="0" text-anchor="end" font-size="14.6" class="t" transform="translate(0,481.20) scale(1,1.05)">30,00</text>
<text x="41.7" y="0" text-anchor="end" font-size="14.6" class="t" transform="translate(0,414.83) scale(1,1.05)">35,00</text>
<text x="41.7" y="0" text-anchor="end" font-size="14.6" class="t" transform="translate(0,348.46) scale(1,1.05)">40,00</text>
<text x="41.7" y="0" text-anchor="end" font-size="14.6" class="t" transform="translate(0,282.09) scale(1,1.05)">45,00</text>
<text x="41.7" y="0" text-anchor="end" font-size="14.6" class="t" transform="translate(0,215.71) scale(1,1.05)">50,00</text>
<text x="41.7" y="0" text-anchor="end" font-size="14.6" class="t" transform="translate(0,149.34) scale(1,1.05)">55,00</text>
<text x="41.7" y="0" text-anchor="end" font-size="14.6" class="t" transform="translate(0,82.97) scale(1,1.05)">60,00</text>
<text x="41.7" y="0" text-anchor="end" font-size="14.6" class="t" transform="translate(0,16.60) scale(1,1.05)">65,00</text>
<text x="56.10" y="500.9" text-anchor="middle" font-size="15.2" letter-spacing="0.3" class="t">1950</text>
<text x="156.18" y="500.9" text-anchor="middle" font-size="15.2" letter-spacing="0.3" class="t">1970</text>
<text x="256.26" y="500.9" text-anchor="middle" font-size="15.2" letter-spacing="0.3" class="t">1990</text>
<text x="356.34" y="500.9" text-anchor="middle" font-size="15.2" letter-spacing="0.3" class="t">2010</text>
<text x="456.42" y="500.9" text-anchor="middle" font-size="15.2" letter-spacing="0.3" class="t">2030</text>
<text x="556.50" y="500.9" text-anchor="middle" font-size="15.2" letter-spacing="0.3" class="t">2050</text>
<text x="656.58" y="500.9" text-anchor="middle" font-size="15.2" letter-spacing="0.3" class="t">2070</text>
<text x="5.8" y="252.8" font-weight="bold" font-size="17.2" class="t">e(15)</text>
<text x="280.6" y="522.2" font-weight="bold" font-size="16.9" class="t">time (yr)</text>
</svg></body></html>
